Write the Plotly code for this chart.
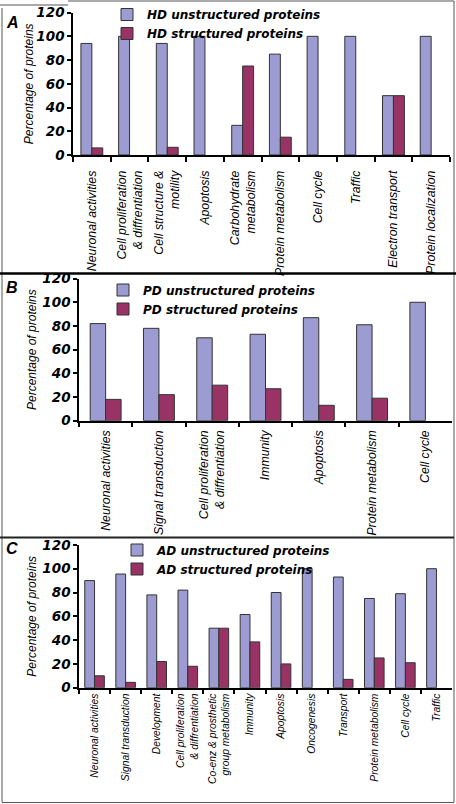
import plotly.graph_objects as go

# ---------------- data ----------------
hd_categories = ["Neuronal activities", "Cell proliferation<br>& diffrentiation",
                 "Cell structure &<br>motility", "Apoptosis", "Carbohydrate<br>metabolism",
                 "Protein metabolism", "Cell cycle", "Traffic", "Electron transport",
                 "Protein localization"]
hd_unstructured = [94, 100, 94, 100, 25, 85, 100, 100, 50, 100]
hd_structured = [6, 0, 6.5, 0, 75, 15, 0, 0, 50, 0]

pd_categories = ["Neuronal activities", "Signal transduction",
                 "Cell proliferation<br>& diffrentiation", "Immunity", "Apoptosis",
                 "Protein metabolism", "Cell cycle"]
pd_unstructured = [82, 78, 70, 73, 87, 81, 100]
pd_structured = [18, 22, 30, 27, 13, 19, 0]

ad_categories = ["Neuronal activities", "Signal transduction", "Development",
                 "Cell proliferation<br>& diffrentiation",
                 "Co-enz & prosthetic<br>group metabolism", "Immunity", "Apoptosis",
                 "Oncogenesis", "Transport", "Protein metabolism", "Cell cycle", "Traffic"]
ad_unstructured = [90, 95.5, 78, 82, 50, 61.5, 80, 100, 93, 75, 79, 100]
ad_structured = [10, 4.5, 22, 18, 50, 38.5, 20, 0, 7, 25, 21, 0]

y_ticks = [0, 20, 40, 60, 80, 100, 120]

# ---------------- style ----------------
W, H = 456, 804
UNS = "#9c9cd2"
STR = "#993366"
EDGE = "#333333"


def fx(p):
    return p / W


def fy(p):
    return 1 - p / H


def nz(vals):
    # zero-height bars are not drawn in the original
    return [v if v else None for v in vals]


panels = [
    dict(cats=hd_categories, u=hd_unstructured, s=hd_structured, lab="HD", letter="A",
         x0=73, x1=450, ytop=12.6, ybot=155, w=0.29, tfs=12.3, so=9, tso=0,
         leg=(107, 0), letpos=(12, 22)),
    dict(cats=pd_categories, u=pd_unstructured, s=pd_structured, lab="PD", letter="B",
         x0=79, x1=452, ytop=278.6, ybot=420.7, w=0.29, tfs=12.3, so=3, tso=3,
         leg=(103, 275.5), letpos=(12, 287)),
    dict(cats=ad_categories, u=ad_unstructured, s=ad_structured, lab="AD", letter="C",
         x0=79, x1=452, ytop=544.9, ybot=687.7, w=0.315, tfs=10.3, so=0, tso=3,
         leg=(117, 535.5), letpos=(12, 548)),
]

fig = go.Figure()
layout = dict(width=W, height=H, margin=dict(l=0, r=0, t=0, b=0, autoexpand=False),
              paper_bgcolor="white", plot_bgcolor="white", barmode="overlay",
              showlegend=True)
annotations = []

for i, p in enumerate(panels, start=1):
    xa = "x" if i == 1 else f"x{i}"
    ya = "y" if i == 1 else f"y{i}"
    lg = "legend" if i == 1 else f"legend{i}"
    fig.add_trace(go.Bar(x=p["cats"], y=nz(p["u"]), name=f"{p['lab']} unstructured proteins",
                         marker=dict(color=UNS, line=dict(color=EDGE, width=1)),
                         width=p["w"], offset=-p["w"], xaxis=xa, yaxis=ya, legend=lg))
    fig.add_trace(go.Bar(x=p["cats"], y=nz(p["s"]), name=f"{p['lab']} structured proteins",
                         marker=dict(color=STR, line=dict(color=EDGE, width=1)),
                         width=p["w"], offset=0, xaxis=xa, yaxis=ya, legend=lg))
    xkey = "xaxis" if i == 1 else f"xaxis{i}"
    ykey = "yaxis" if i == 1 else f"yaxis{i}"
    layout[xkey] = dict(domain=[fx(p["x0"]), fx(p["x1"])], anchor=ya, automargin=False,
                        range=[-0.5, len(p["cats"]) - 0.5], type="category",
                        categoryorder="array", categoryarray=p["cats"],
                        showline=True, linecolor="black", linewidth=1.5,
                        ticks="outside", tickson="boundaries", ticklen=5,
                        ticklabelstandoff=p["so"],
                        tickcolor="black", tickwidth=1.5, tickangle=-90,
                        showgrid=False, zeroline=False,
                        tickfont=dict(family="Liberation Sans, Arial", size=p["tfs"],
                                      color="black", style="italic"))
    layout[ykey] = dict(domain=[fy(p["ybot"]), fy(p["ytop"])], anchor=xa, automargin=False,
                        range=[0, 120], tickvals=y_ticks, showline=True,
                        linecolor="black", linewidth=1.5, ticks="outside", ticklen=4,
                        tickcolor="black", tickwidth=1.5, showgrid=False, zeroline=False,
                        tickfont=dict(family="DejaVu Sans", size=13.5, color="black",
                                      weight="bold", style="italic"),
                        title=dict(text="Percentage of proteins", standoff=p["tso"],
                                   font=dict(family="Liberation Sans, Arial", size=12,
                                             color="black", style="italic")))
    layout[lg] = dict(x=fx(p["leg"][0]), y=fy(p["leg"][1]), xanchor="left", yanchor="top",
                      bgcolor="rgba(0,0,0,0)", tracegroupgap=0,
                      font=dict(family="DejaVu Sans", size=12, color="black",
                                weight="bold", style="italic"))
    annotations.append(dict(text=p["letter"], x=fx(p["letpos"][0]), y=fy(p["letpos"][1]),
                            xref="paper", yref="paper", showarrow=False,
                            xanchor="center", yanchor="middle",
                            font=dict(family="Liberation Sans, Arial", size=16,
                                      color="black", weight="bold", style="italic")))

shapes = []


def line(x0, y0, x1, y1, color="#555555", width=1):
    shapes.append(dict(type="line", xref="paper", yref="paper", x0=fx(x0), y0=fy(y0),
                       x1=fx(x1), y1=fy(y1), line=dict(color=color, width=width)))


# frames around the three panels
line(0, 5, 68, 5)
line(68, 1, 454, 1)
line(2, 8, 2, 802)
line(454, 1, 454, 802)
line(0, 273.5, 456, 273.5, color="black", width=2.5)
line(0, 537.5, 454, 537.5, color="#222222", width=2)
line(2, 802.5, 454, 802.5)

layout["shapes"] = shapes
layout["annotations"] = annotations
fig.update_layout(**layout)

fig.write_html("out.html", config={"displayModeBar": False},
               post_script="document.body.style.margin='0';")
